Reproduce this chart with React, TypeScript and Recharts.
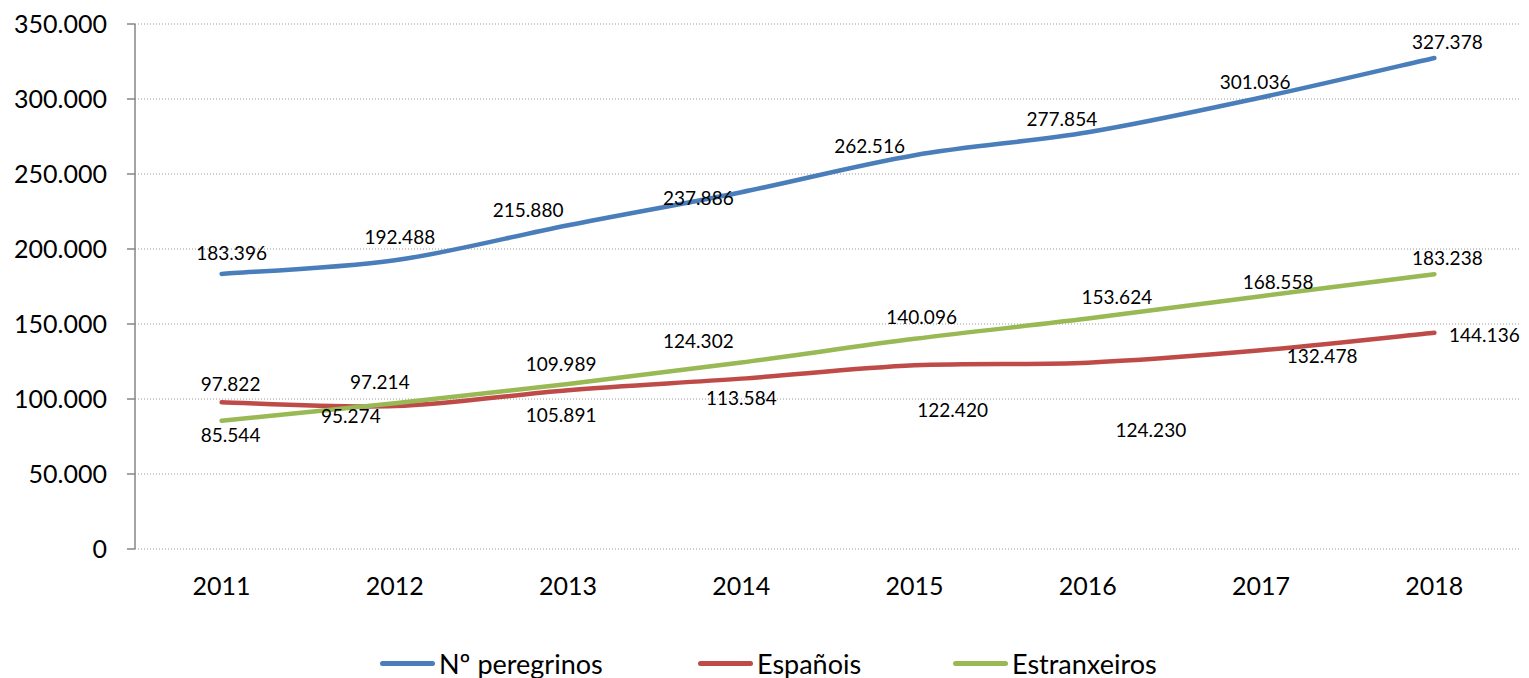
import { CartesianGrid, LabelList, Legend, Line, LineChart, XAxis, YAxis } from "recharts";

const years = ["2011", "2012", "2013", "2014", "2015", "2016", "2017", "2018"];
const peregrinos = [183396, 192488, 215880, 237886, 262516, 277854, 301036, 327378];
const espanois = [97822, 95274, 105891, 113584, 122420, 124230, 132478, 144136];
const estranxeiros = [85544, 97214, 109989, 124302, 140096, 153624, 168558, 183238];
const yTicks = [0, 50000, 100000, 150000, 200000, 250000, 300000, 350000];

// label nudges (dx, dy) relative to each point, per series
const peregrinosLabelShift: [number, number][] = [[10, -21], [5, -24], [-40, -16], [-43, 5], [-45, -10], [-26, -14], [-6, -16], [13, -16]];
const espanoisLabelShift: [number, number][] = [[9, -19], [-44, 9], [-7, 24], [0, 19], [38, 44], [63, 67], [61, 5], [50, 2]];
const estranxeirosLabelShift: [number, number][] = [[9, 14], [-15, -22], [-7, -21], [-43, -22], [7, -22], [29, -22], [17, -15], [13, -17]];

const series = [
  { key: "peregrinos", name: "Nº peregrinos", color: "#4a7ebb", shift: peregrinosLabelShift, legendLeft: 380 },
  { key: "espanois", name: "Españois", color: "#be4b48", shift: espanoisLabelShift, legendLeft: 698 },
  { key: "estranxeiros", name: "Estranxeiros", color: "#98b954", shift: estranxeirosLabelShift, legendLeft: 953 },
];

const rows = years.map((year, i) => ({
  pos: i + 0.5,
  year,
  peregrinos: peregrinos[i],
  espanois: espanois[i],
  estranxeiros: estranxeiros[i],
}));

const fmt = (v: number) => String(v).replace(/\B(?=(\d{3})+(?!\d))/g, ".");
const FONT = "Lato, 'Open Sans', sans-serif";
const axisGrey = "#868686";

// Catmull-Rom style smoothing, like office "smoothed line" charts
function smoothCurve(context: any) {
  let pts: [number, number][] = [];
  return {
    areaStart() {},
    areaEnd() {},
    lineStart() {
      pts = [];
    },
    point(x: number, y: number) {
      pts.push([+x, +y]);
    },
    lineEnd() {
      if (!pts.length) return;
      context.moveTo(pts[0][0], pts[0][1]);
      for (let i = 0; i < pts.length - 1; i++) {
        const p0 = pts[i - 1] ?? pts[i];
        const p1 = pts[i];
        const p2 = pts[i + 1];
        const p3 = pts[i + 2] ?? p2;
        context.bezierCurveTo(
          p1[0] + (p2[0] - p0[0]) / 6,
          p1[1] + (p2[1] - p0[1]) / 6,
          p2[0] - (p3[0] - p1[0]) / 6,
          p2[1] - (p3[1] - p1[1]) / 6,
          p2[0],
          p2[1]
        );
      }
    },
  };
}

function makeLabel(shift: [number, number][], values: number[]) {
  return (props: any) => {
    const { x, y, value } = props;
    const i = props.index ?? values.indexOf(Number(value));
    const [dx, dy] = shift[i] ?? [0, -20];
    return (
      <text x={Number(x) + dx} y={Number(y) + dy} textAnchor="middle" dominantBaseline="central" fontSize={19} fontFamily={FONT} fill="#000">
        {fmt(Number(value))}
      </text>
    );
  };
}

const valuesOf: Record<string, number[]> = { peregrinos, espanois, estranxeiros };

function LegendBox() {
  return (
    <div style={{ position: "relative", height: 30, width: 1529, fontFamily: FONT, fontSize: 27, color: "#000", whiteSpace: "nowrap" }}>
      {series.map((s) => (
        <div key={s.key} style={{ position: "absolute", left: s.legendLeft, top: 0, height: 30, display: "flex", alignItems: "center" }}>
          <span style={{ display: "inline-block", width: 55, height: 5, borderRadius: 3, background: s.color, marginRight: 4 }} />
          <span>{s.name}</span>
        </div>
      ))}
    </div>
  );
}

export default function App() {
  return (
    <div style={{ position: "absolute", left: 0, top: 0, background: "#fff" }}>
      <LineChart width={1529} height={678} data={rows} margin={{ top: 24, right: 8, left: 0, bottom: 0 }}>
        <CartesianGrid horizontal vertical={false} stroke="#999" strokeDasharray="1 2" xAxisId="bounds" />
        <XAxis
          xAxisId="bounds"
          type="number"
          dataKey="pos"
          domain={[0, 8]}
          ticks={[0, 1, 2, 3, 4, 5, 6, 7, 8]}
          tick={false}
          tickSize={8}
          height={0}
          stroke={axisGrey}
          strokeWidth={1.5}
        />
        <XAxis
          xAxisId="year"
          type="number"
          dataKey="pos"
          domain={[0, 8]}
          ticks={rows.map((r) => r.pos)}
          tickFormatter={(v: number) => years[Math.floor(v)]}
          axisLine={false}
          tickLine={false}
          tickSize={0}
          tickMargin={28}
          height={99}
          tick={{ fontSize: 25, fill: "#000", fontFamily: FONT }}
        />
        <YAxis
          domain={[0, 350000]}
          ticks={yTicks}
          tickFormatter={fmt}
          width={135}
          tickSize={8}
          tickMargin={20}
          stroke={axisGrey}
          strokeWidth={1.5}
          tick={{ fontSize: 25, fill: "#000", fontFamily: FONT }}
        />
        <Legend verticalAlign="bottom" wrapperStyle={{ left: 0, width: 1529 }} content={() => <LegendBox />} />
        {series.map((s) => (
          <Line
            key={s.key}
            xAxisId="bounds"
            type={smoothCurve as any}
            dataKey={s.key}
            name={s.name}
            stroke={s.color}
            strokeWidth={4.5}
            strokeLinecap="round"
            dot={false}
            activeDot={false}
            isAnimationActive={false}
          >
            <LabelList dataKey={s.key} content={makeLabel(s.shift, valuesOf[s.key])} />
          </Line>
        ))}
      </LineChart>
    </div>
  );
}
